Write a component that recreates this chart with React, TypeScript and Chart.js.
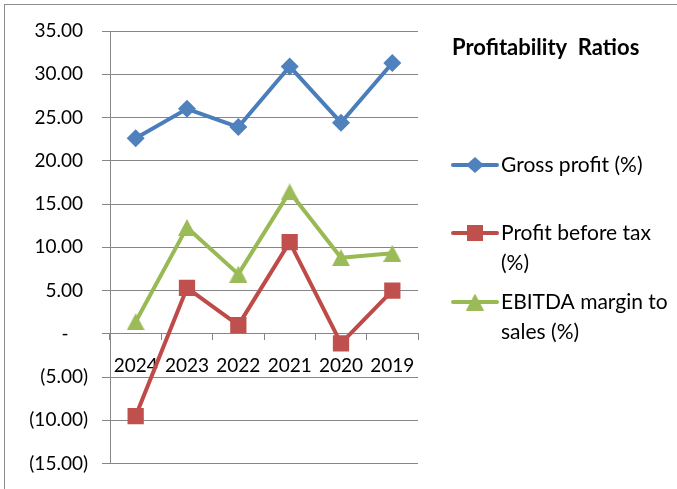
import React, { useEffect, useRef } from "react";
import { Chart, registerables } from "chart.js";

Chart.register(...registerables);

// ---- data ----
const categories = ["2024", "2023", "2022", "2021", "2020", "2019"];
const grossProfit = [22.6, 26.0, 23.9, 30.9, 24.4, 31.3];
const profitBeforeTax = [-9.5, 5.3, 1.0, 10.6, -1.1, 5.0];
const ebitdaMargin = [1.4, 12.3, 6.9, 16.4, 8.8, 9.3];
const seriesNames = ["Gross profit (%)", "Profit before tax (%)", "EBITDA margin to sales (%)"];
const legendLines = [["Gross profit (%)"], ["Profit before tax", "(%)"], ["EBITDA margin to", "sales (%)"]];
const chartTitle = "Profitability  Ratios";
const yMin = -15;
const yMax = 35;
const yStep = 5;

const FONT = "Lato, 'Liberation Sans', sans-serif";
const lineColors = ["#4A7EBB", "#BE4B48", "#98B954"];
const fillColors = ["#4F81BD", "#C0504D", "#9BBB59"];
const GRID = "#868686";

function makeTriangle(color: string): HTMLCanvasElement {
  const c = document.createElement("canvas");
  c.width = 18;
  c.height = 17;
  const ctx = c.getContext("2d")!;
  ctx.fillStyle = color;
  ctx.beginPath();
  ctx.moveTo(9, 0);
  ctx.lineTo(18, 17);
  ctx.lineTo(0, 17);
  ctx.closePath();
  ctx.fill();
  return c;
}

function fmt(v: number): string {
  if (Math.abs(v) < 1e-9) return "-    ";
  if (v < 0) return "(" + Math.abs(v).toFixed(2) + ")";
  return v.toFixed(2) + " ";
}

export default function App() {
  const ref = useRef<HTMLCanvasElement | null>(null);

  useEffect(() => {
    document.body.style.margin = "0";
    const canvas = ref.current!;
    const tri = makeTriangle(fillColors[2]);
    const pointStyles: any[] = ["rectRot", "rect", tri];
    const radii = [9, 11.5, 9];

    const decor = {
      id: "decor",
      beforeDraw(chart: any) {
        const ctx = chart.ctx;
        ctx.save();
        ctx.fillStyle = "#ffffff";
        ctx.fillRect(0, 0, chart.width, chart.height);
        ctx.strokeStyle = "#8c8c8c";
        ctx.lineWidth = 1;
        ctx.strokeRect(4.5, 4.5, chart.width + 20, chart.height + 20);
        ctx.restore();
      },
      afterDraw(chart: any) {
        const ctx = chart.ctx;
        ctx.save();
        ctx.fillStyle = "#000000";
        ctx.textBaseline = "middle";
        ctx.textAlign = "left";
        ctx.font = "bold 22px " + FONT;
        ctx.fillText(chartTitle, 452, 48);
        const ys = [165, 233, 302];
        ctx.font = "21px " + FONT;
        legendLines.forEach((lines, i) => {
          const y = ys[i];
          ctx.strokeStyle = lineColors[i];
          ctx.lineWidth = 4;
          ctx.lineCap = "round";
          ctx.beginPath();
          ctx.moveTo(453, y);
          ctx.lineTo(497, y);
          ctx.stroke();
          ctx.fillStyle = fillColors[i];
          if (i === 0) {
            ctx.beginPath();
            ctx.moveTo(475, y - 8);
            ctx.lineTo(484, y);
            ctx.lineTo(475, y + 8);
            ctx.lineTo(466, y);
            ctx.closePath();
            ctx.fill();
          } else if (i === 1) {
            ctx.fillRect(475 - 8, y - 8, 16, 16);
          } else {
            ctx.drawImage(tri, 475 - 9, y - 8.5);
          }
          ctx.fillStyle = "#000000";
          lines.forEach((t, j) => {
            ctx.fillText(t, 501, y + j * 30);
          });
        });
        ctx.restore();
      },
    };

    const datasets = [grossProfit, profitBeforeTax, ebitdaMargin].map((d, i) => ({
      label: seriesNames[i],
      data: d,
      borderColor: lineColors[i],
      backgroundColor: fillColors[i],
      borderWidth: 4,
      pointStyle: pointStyles[i],
      pointRadius: radii[i],
      pointBackgroundColor: fillColors[i],
      pointBorderColor: fillColors[i],
      pointBorderWidth: 0,
      tension: 0,
      borderJoinStyle: "round" as const,
    }));

    const chart = new Chart(canvas, {
      type: "line",
      data: { labels: categories, datasets },
      plugins: [decor],
      options: {
        animation: false,
        responsive: false,
        maintainAspectRatio: false,
        layout: { padding: { top: 31, bottom: 23, left: 0, right: 259 } },
        plugins: {
          legend: { display: false },
          tooltip: { enabled: false },
          title: { display: false },
        },
        scales: {
          x: {
            type: "category",
            position: { y: 0 } as any,
            offset: true,
            afterFit: (s: any) => {
              s.height = 0;
            },
            grid: {
              drawOnChartArea: false,
              drawTicks: true,
              tickLength: 6,
              offset: true,
              color: GRID,
            },
            border: { display: true, color: GRID, width: 1 },
            ticks: {
              color: "#000000",
              font: { family: FONT, size: 19 },
              padding: 15,
              maxRotation: 0,
              autoSkip: false,
            },
          },
          y: {
            type: "linear",
            min: yMin,
            max: yMax,
            afterFit: (s: any) => {
              s.width = 110;
            },
            grid: {
              color: GRID,
              lineWidth: 1,
              tickLength: 8,
              drawTicks: true,
            },
            border: { display: true, color: GRID, width: 1 },
            ticks: {
              stepSize: yStep,
              color: "#000000",
              font: { family: FONT, size: 19 },
              padding: 14,
              callback: (v: any) => fmt(Number(v)),
            },
          },
        },
      },
    });
    return () => chart.destroy();
  }, []);

  return (
    <div style={{ width: 677, height: 489 }}>
      <canvas ref={ref} width={677} height={489} style={{ display: "block" }} />
    </div>
  );
}
